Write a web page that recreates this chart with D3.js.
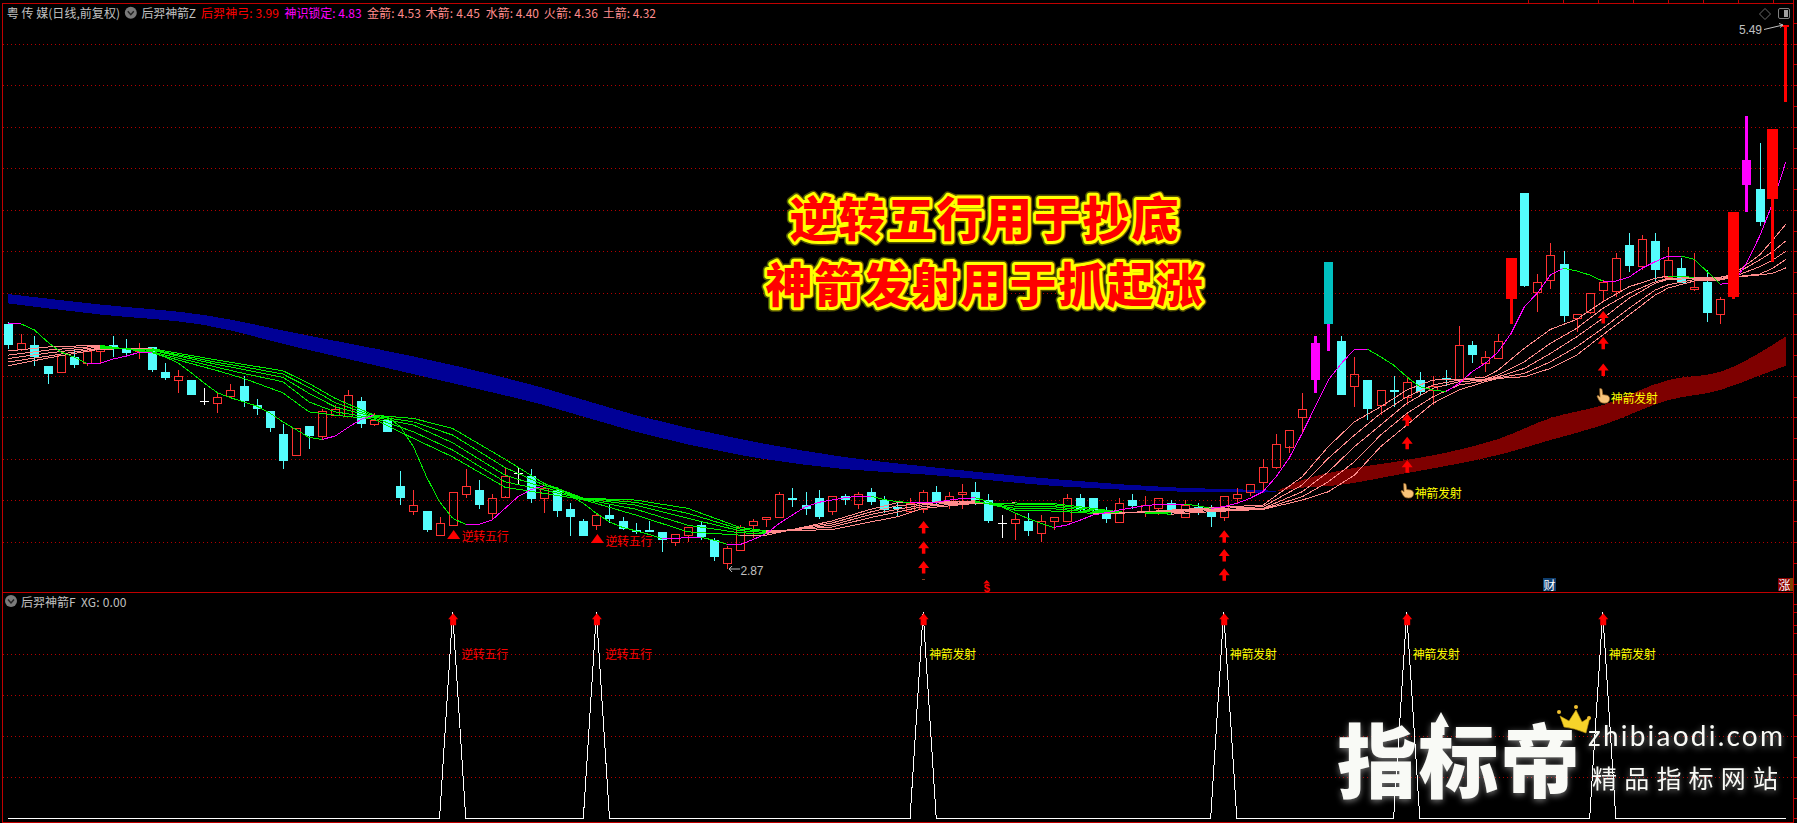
<!DOCTYPE html>
<html><head><meta charset="utf-8">
<script src="https://cdn.jsdelivr.net/npm/d3@7/dist/d3.min.js"></script>
<style>html,body{margin:0;padding:0;background:#000;overflow:hidden}svg{display:block}
text{font-family:"Liberation Sans","Noto Sans CJK SC",sans-serif}</style></head><body>
<svg id="c" width="1797" height="823"></svg>
<script>
// ---------- data ----------
const opens=[4.05,3.93,3.95,3.85,3.82,3.89,3.86,3.92,3.95,3.93,3.92,3.94,3.82,3.78,3.78,3.68,3.67,3.70,3.75,3.66,3.63,3.52,3.42,3.56,3.51,3.61,3.61,3.68,3.57,3.59,3.27,3.15,3.15,3.03,3.08,3.23,3.25,3.14,3.22,3.33,3.32,3.21,3.25,3.16,3.10,3.08,3.13,3.10,3.06,3.06,3.05,3.00,3.03,3.08,3.01,2.90,2.96,3.08,3.11,3.12,3.21,3.18,3.21,3.15,3.22,3.18,3.24,3.20,3.17,3.15,3.16,3.24,3.18,3.23,3.24,3.20,3.09,3.09,3.10,3.04,3.10,3.10,3.21,3.21,3.14,3.10,3.20,3.15,3.16,3.19,3.12,3.17,3.15,3.12,3.21,3.24,3.29,3.36,3.46,3.60,3.78,4.35,3.97,3.75,3.78,3.66,3.73,3.70,3.78,3.73,3.79,3.78,3.95,3.86,3.89,4.17,4.68,4.20,4.26,4.34,4.08,4.11,4.21,4.21,4.43,4.33,4.45,4.28,4.32,4.22,4.25,4.10,4.18,4.72,4.70,4.65,5.49];
const highs=[4.06,4.00,3.99,3.85,3.90,3.93,3.94,3.94,3.99,3.98,3.96,3.94,3.86,3.83,3.78,3.74,3.72,3.76,3.80,3.69,3.63,3.57,3.55,3.56,3.64,3.66,3.73,3.70,3.62,3.60,3.34,3.25,3.15,3.12,3.24,3.35,3.30,3.23,3.36,3.36,3.35,3.26,3.25,3.19,3.11,3.14,3.18,3.12,3.09,3.10,3.05,3.04,3.07,3.10,3.02,2.98,3.08,3.11,3.12,3.24,3.26,3.24,3.25,3.22,3.23,3.24,3.26,3.22,3.19,3.21,3.25,3.27,3.24,3.28,3.29,3.23,3.13,3.14,3.14,3.13,3.12,3.23,3.23,3.21,3.17,3.21,3.23,3.22,3.21,3.20,3.20,3.19,3.18,3.22,3.26,3.28,3.40,3.52,3.54,3.72,3.99,4.35,3.99,3.89,3.78,3.73,3.80,3.79,3.82,3.80,3.83,4.04,3.97,3.92,4.00,4.37,4.68,4.29,4.44,4.40,4.10,4.20,4.26,4.39,4.49,4.48,4.49,4.42,4.37,4.39,4.31,4.18,4.59,5.05,4.92,4.99,5.49];
const lows=[3.93,3.92,3.85,3.76,3.82,3.84,3.85,3.86,3.89,3.90,3.88,3.82,3.78,3.72,3.71,3.66,3.62,3.70,3.65,3.61,3.53,3.35,3.42,3.45,3.49,3.61,3.61,3.55,3.56,3.53,3.18,3.13,3.05,3.03,3.08,3.21,3.16,3.11,3.21,3.28,3.19,3.14,3.12,3.03,3.03,3.06,3.09,3.06,3.04,3.05,2.95,2.98,3.00,3.01,2.91,2.87,2.96,3.02,3.07,3.12,3.17,3.13,3.11,3.13,3.18,3.16,3.18,3.14,3.12,3.14,3.14,3.18,3.16,3.16,3.18,3.09,3.02,3.01,3.03,3.00,3.06,3.10,3.15,3.14,3.09,3.10,3.16,3.12,3.13,3.13,3.12,3.13,3.07,3.10,3.19,3.22,3.25,3.35,3.43,3.53,3.72,3.92,3.71,3.65,3.59,3.61,3.65,3.66,3.71,3.66,3.75,3.78,3.86,3.82,3.89,4.05,4.23,4.11,4.22,4.06,4.01,4.10,4.16,4.18,4.30,4.31,4.25,4.28,4.25,4.21,4.06,4.05,4.17,4.59,4.52,4.35,5.12];
const closes=[3.95,3.96,3.89,3.81,3.90,3.85,3.92,3.94,3.93,3.91,3.93,3.83,3.79,3.80,3.71,3.68,3.70,3.73,3.68,3.64,3.55,3.39,3.55,3.51,3.63,3.64,3.71,3.57,3.59,3.53,3.21,3.18,3.06,3.09,3.24,3.27,3.18,3.21,3.32,3.33,3.21,3.26,3.15,3.12,3.03,3.13,3.11,3.06,3.05,3.05,3.01,3.04,3.07,3.02,2.93,2.97,3.07,3.10,3.12,3.23,3.20,3.16,3.12,3.22,3.20,3.23,3.19,3.15,3.16,3.19,3.24,3.19,3.22,3.24,3.20,3.10,3.09,3.11,3.05,3.10,3.12,3.21,3.15,3.15,3.11,3.19,3.17,3.18,3.21,3.14,3.18,3.16,3.12,3.22,3.23,3.28,3.36,3.47,3.54,3.64,3.96,4.05,3.71,3.81,3.64,3.73,3.72,3.77,3.72,3.75,3.78,3.95,3.90,3.89,3.97,4.37,4.23,4.25,4.38,4.09,4.10,4.20,4.25,4.37,4.33,4.46,4.31,4.36,4.25,4.23,4.10,4.17,4.59,4.84,4.54,4.99,5.49];
const sensorLine=[4.050,4.050,4.021,3.964,3.916,3.891,3.860,3.860,3.881,3.895,3.913,3.913,3.891,3.862,3.815,3.765,3.719,3.695,3.675,3.655,3.622,3.579,3.542,3.504,3.494,3.510,3.552,3.591,3.611,3.603,3.555,3.459,3.314,3.194,3.114,3.085,3.085,3.105,3.162,3.218,3.253,3.271,3.261,3.226,3.186,3.138,3.097,3.070,3.054,3.037,3.017,3.017,3.022,3.022,3.009,2.988,2.988,3.012,3.041,3.090,3.130,3.170,3.191,3.202,3.213,3.221,3.221,3.205,3.194,3.191,3.191,3.191,3.202,3.210,3.213,3.194,3.170,3.141,3.114,3.090,3.070,3.082,3.105,3.130,3.141,3.154,3.165,3.175,3.181,3.181,3.183,3.175,3.162,3.170,3.186,3.210,3.242,3.314,3.403,3.523,3.651,3.780,3.860,3.928,3.928,3.892,3.852,3.796,3.748,3.732,3.724,3.764,3.820,3.860,3.916,4.006,4.133,4.199,4.286,4.318,4.306,4.286,4.257,4.257,4.275,4.318,4.350,4.377,4.377,4.361,4.302,4.242,4.246,4.343,4.472,4.631,4.829];
const fanIdx=[0,3,7,11,16,18,21,23,25,28,31,34,38,41,44,48,52,56,58,63,66,68,70,74,77,80,83,85,89,92,96,99,101,103,105,107,109,111,113,114,116,118,120,122,124,126,127,129,131,132,134,135,136];
const goldArrow=[3.920,3.939,3.948,3.911,3.825,3.788,3.719,3.627,3.611,3.591,3.499,3.410,3.264,3.234,3.204,3.130,3.049,3.033,3.033,3.101,3.158,3.189,3.191,3.198,3.154,3.149,3.138,3.138,3.154,3.165,3.178,3.314,3.459,3.579,3.651,3.732,3.780,3.783,3.794,3.828,3.933,4.024,4.072,4.157,4.229,4.270,4.281,4.275,4.275,4.290,4.382,4.454,4.53];
const woodArrow=[3.900,3.924,3.944,3.916,3.841,3.812,3.772,3.675,3.627,3.597,3.531,3.443,3.290,3.250,3.207,3.158,3.081,3.044,3.041,3.091,3.145,3.174,3.186,3.196,3.162,3.160,3.143,3.141,3.151,3.160,3.170,3.274,3.403,3.515,3.619,3.699,3.756,3.780,3.785,3.804,3.868,3.957,4.029,4.125,4.198,4.253,4.270,4.273,4.275,4.286,4.358,4.398,4.45];
const waterArrow=[3.884,3.910,3.939,3.923,3.855,3.831,3.793,3.716,3.651,3.602,3.563,3.478,3.322,3.263,3.209,3.178,3.114,3.054,3.046,3.081,3.133,3.157,3.179,3.192,3.173,3.170,3.149,3.143,3.146,3.156,3.162,3.242,3.338,3.459,3.563,3.668,3.740,3.772,3.780,3.796,3.836,3.908,3.988,4.077,4.173,4.246,4.265,4.268,4.270,4.277,4.326,4.358,4.40];
const fireArrow=[3.867,3.895,3.934,3.926,3.865,3.844,3.809,3.745,3.671,3.606,3.579,3.515,3.359,3.274,3.211,3.191,3.138,3.062,3.051,3.072,3.118,3.144,3.171,3.189,3.183,3.179,3.155,3.144,3.141,3.151,3.159,3.218,3.290,3.386,3.515,3.619,3.699,3.756,3.778,3.791,3.812,3.868,3.940,4.029,4.125,4.213,4.239,4.264,4.266,4.277,4.290,4.318,4.36];
const earthArrow=[3.849,3.886,3.929,3.931,3.876,3.855,3.825,3.764,3.692,3.611,3.595,3.547,3.399,3.282,3.211,3.202,3.162,3.070,3.054,3.059,3.097,3.121,3.162,3.186,3.188,3.185,3.162,3.145,3.134,3.146,3.157,3.202,3.242,3.322,3.459,3.563,3.668,3.732,3.772,3.788,3.796,3.836,3.900,3.997,4.093,4.189,4.223,4.257,4.262,4.275,4.286,4.294,4.32];
const blueIdx=[0,7,15,22,34,41,48,56,64,70,81,90,96,97];
const blueUpper=[4.194,4.144,4.093,4.006,3.852,3.741,3.611,3.496,3.409,3.365,3.298,3.260,3.250,3.243];
const blueLower=[4.149,4.096,4.045,3.939,3.765,3.659,3.531,3.419,3.351,3.326,3.266,3.242,3.238,3.243];
const redIdx=[97,99,101,107,110,114,118,122,127,131,134,136];
const redUpper=[3.243,3.298,3.332,3.395,3.430,3.496,3.597,3.659,3.780,3.820,3.911,3.99];
const redLower=[3.243,3.262,3.269,3.332,3.366,3.419,3.491,3.563,3.683,3.732,3.802,3.849];
const gridPrices=[5.4,5.2,5.0,4.8,4.6,4.4,4.2,4.0,3.8,3.6,3.4,3.2,3.0];
const gridSignal=[0.2,0.4,0.6,0.8];
const reversalIdx=[34,45];
const launchIdx=[70,93,107,122];
const launchArrows=[[3.101,3.004,2.908],[3.057,2.966,2.874],[3.619,3.507,3.394],[4.112,3.988,3.860]];
const handIdx=[107,122];
const handPrices=[3.284,3.741];
const magentaBars=[100,133];
const tealBars=[101];
const wideRedBars=[115,132,135];
const limitBars=[136];
const reversalLabel="逆转五行", launchLabel="神箭发射";
const legendNames=["后羿神弓","神识锁定","金箭","木箭","水箭","火箭","土箭"];
const legendValues=[3.99,4.83,4.53,4.45,4.40,4.36,4.32];
const titleLines=["逆转五行用于抄底","神箭发射用于抓起涨"];

// ---------- scales ----------
const svg=d3.select("#c");
const COL={red:"#ff3232",cyan:"#54fcfc",pink:"#ff8c8c",green:"#00f000",mag:"#ff00ff",grid:"#b40000",frame:"#c00000",grey:"#c0c0c0"};
const x=d3.scaleLinear().domain([0,136]).range([8.3,1785.7]);
const y=d3.scaleLinear().domain([5.49,2.87]).range([25,569]);
const yS=d3.scaleLinear().domain([0,1]).range([818.3,612.3]);
const snap=v=>Math.round(v)+0.5;
const CJK='"Noto Sans CJK SC","Liberation Sans",sans-serif';

// ---------- grid & frame ----------
const gridG=svg.append("g").attr("shape-rendering","crispEdges");
gridG.selectAll("line.a").data(gridPrices).join("line").attr("x1",3).attr("x2",1793)
  .attr("y1",d=>snap(y(d))).attr("y2",d=>snap(y(d))).attr("stroke",COL.grid).attr("stroke-dasharray","1 3");
gridG.selectAll("line.b").data(gridSignal,d=>"s"+d).join("line").attr("x1",3).attr("x2",1793)
  .attr("y1",d=>snap(yS(d))).attr("y2",d=>snap(yS(d))).attr("stroke",COL.grid).attr("stroke-dasharray","1 3");
const frame=svg.append("g").attr("shape-rendering","crispEdges").attr("stroke",COL.frame).attr("stroke-width",1);
[[2.5,2.5,2.5,823],[1793.5,0,1793.5,823],[2,3.5,1794,3.5],[2,592.5,1794,592.5],[2,822.5,1794,822.5]].forEach(l=>
  frame.append("line").attr("x1",l[0]).attr("y1",l[1]).attr("x2",l[2]).attr("y2",l[3]));
frame.selectAll("line.tk").data(d3.range(5.5,2.55,-0.1)).join("line").attr("class","tk")
  .attr("x1",1794).attr("x2",1797).attr("y1",d=>snap(y(d))).attr("y2",d=>snap(y(d)));
frame.selectAll("line.tks").data(d3.range(0,1.01,0.1)).join("line").attr("class","tks")
  .attr("x1",1794).attr("x2",1797).attr("y1",d=>snap(yS(d))).attr("y2",d=>snap(yS(d)));
frame.selectAll("line.tkt").data(d3.range(1528.5,1793,35)).join("line").attr("class","tkt")
  .attr("x1",d=>d).attr("x2",d=>d).attr("y1",0).attr("y2",3);

// ---------- ribbons ----------
const band=(idx,up,lo,color)=>{
  const a=d3.area().x(d=>x(idx[d])).y0(d=>y(lo[d])).y1(d=>y(up[d])).curve(d3.curveMonotoneX);
  svg.append("path").attr("d",a(d3.range(idx.length))).attr("fill",color).attr("shape-rendering","crispEdges");
};
band(blueIdx,blueUpper,blueLower,"#000096");
band(redIdx,redUpper,redLower,"#7e0000");

// ---------- ordinary candles ----------
const special=new Set([...magentaBars,...tealBars,...wideRedBars,...limitBars]);
const cG=svg.append("g").attr("shape-rendering","crispEdges");
opens.forEach((o,i)=>{
  if(special.has(i))return;
  const c=closes[i],cx=snap(x(i)),up=c>o,doji=c===o;
  const col=doji?"#ffffff":up?COL.red:COL.cyan;
  const t=y(Math.max(o,c)),b=y(Math.min(o,c));
  if(up){
    cG.append("line").attr("x1",cx).attr("x2",cx).attr("y1",y(highs[i])).attr("y2",t).attr("stroke",col);
    cG.append("line").attr("x1",cx).attr("x2",cx).attr("y1",b).attr("y2",y(lows[i])).attr("stroke",col);
    cG.append("rect").attr("x",cx-4).attr("width",8).attr("y",snap(t)).attr("height",Math.max(1,Math.round(b-t)))
      .attr("fill","none").attr("stroke",col);
  }else{
    cG.append("line").attr("x1",cx).attr("x2",cx).attr("y1",y(highs[i])).attr("y2",y(lows[i])).attr("stroke",col);
    if(doji) cG.append("line").attr("x1",cx-4.5).attr("x2",cx+4.5).attr("y1",snap(t)).attr("y2",snap(t)).attr("stroke",col);
    else cG.append("rect").attr("x",cx-4.5).attr("width",9).attr("y",Math.round(t)).attr("height",Math.max(2,Math.round(b-t))).attr("fill",col);
  }
});

// ---------- lines, green when falling ----------
const segs=(idx,vals,rise,fall)=>{
  const g=svg.append("g").attr("shape-rendering","crispEdges").attr("fill","none");
  for(let k=0;k<idx.length-1;k++){
    g.append("line").attr("x1",x(idx[k])).attr("y1",y(vals[k])).attr("x2",x(idx[k+1])).attr("y2",y(vals[k+1]))
     .attr("stroke",vals[k+1]>=vals[k]?rise:fall);
  }
};
[earthArrow,fireArrow,waterArrow,woodArrow,goldArrow].forEach(v=>segs(fanIdx,v,COL.pink,COL.green));
segs(d3.range(sensorLine.length),sensorLine,COL.mag,COL.green);

// ---------- highlighted sticks, on top of the lines ----------
const sG=svg.append("g").attr("shape-rendering","crispEdges");
const stick=(i,w,lw,bodyCol,wickCol)=>{
  const cx=x(i),t=y(Math.max(opens[i],closes[i])),b=y(Math.min(opens[i],closes[i]));
  sG.append("rect").attr("x",cx-lw/2).attr("width",lw).attr("y",y(highs[i])).attr("height",y(lows[i])-y(highs[i])).attr("fill",wickCol);
  sG.append("rect").attr("x",cx-w/2).attr("width",w).attr("y",t).attr("height",Math.max(2,b-t)).attr("fill",bodyCol);
};
magentaBars.forEach(i=>stick(i,9,3,COL.mag,COL.mag));
tealBars.forEach(i=>stick(i,9,3,"#00c0c0",COL.mag));
wideRedBars.forEach(i=>stick(i,11,3,"#ff0000","#ff0000"));
limitBars.forEach(i=>stick(i,7,3,"#ff0000","#ff0000"));

// ---------- markers ----------
const arrowPath=(cx,t,w,stem,head,h)=>`M${cx},${t}L${cx+w/2},${t+head}L${cx+stem/2},${t+head}L${cx+stem/2},${t+h}L${cx-stem/2},${t+h}L${cx-stem/2},${t+head}L${cx-w/2},${t+head}Z`;
launchArrows.forEach((arr,k)=>arr.forEach(p=>svg.append("path").attr("d",arrowPath(x(launchIdx[k])+0.5,y(p),11,3.5,7,12.5)).attr("fill","#ff0000")));

const labelTxt=(t,xx,yy,col)=>svg.append("text").text(t).attr("x",xx).attr("y",yy).attr("fill",col)
   .attr("font-size",12).attr("dominant-baseline","central").style("font-family",CJK).attr("textLength",47).attr("lengthAdjust","spacing");
reversalIdx.forEach(i=>{
  const cx=x(i)+1,t=y(lows[i])+4.5;
  svg.append("path").attr("d",`M${cx},${t}L${cx+6.5},${t+9}L${cx-6.5},${t+9}Z`).attr("fill","#ff0000");
  labelTxt(reversalLabel,cx+8,t+6,"#ff0000");
});
const hand=(cx,top)=>{
  const g=svg.append("g").attr("transform",`translate(${cx-6},${top})`);
  g.append("path").attr("d","M3,0.5 C4.5,0 5.5,1 5.5,2.5 L6,6.5 L10,7 C12,7.5 13,9 12.8,11 C12.5,13.5 11,15 8,15 C5,15 3,14 2,11.5 L0.5,8.5 C0.2,7.5 1.4,7 2.4,8 L3.3,9 Z")
   .attr("fill","#f8c47a").attr("stroke","#a06a28").attr("stroke-width",0.7);
};
handIdx.forEach((i,k)=>{
  hand(x(i),y(handPrices[k]));
  labelTxt(launchLabel,x(i)+8,y(handPrices[k])+9.5,"#ffff00");
});

// extreme labels
const ext=svg.append("g").attr("fill",COL.grey).attr("font-size",12);
ext.append("text").text(d3.format(".2f")(d3.min(lows))).attr("x",740.5).attr("y",y(d3.min(lows))+1.5)
  .attr("dominant-baseline","central").attr("textLength",23);
ext.append("path").attr("d",`M${x(55)+2},${y(2.87)}L${x(55)+13},${y(2.87)}M${x(55)+2},${y(2.87)}l3,-3M${x(55)+2},${y(2.87)}l3,3`).attr("stroke",COL.grey).attr("fill","none");
ext.append("text").text(d3.format(".2f")(d3.max(highs))).attr("x",1739).attr("y",y(5.49)+4.5)
  .attr("dominant-baseline","central").attr("textLength",23);
ext.append("path").attr("d",`M1764,29.5L1783,25M1783,25l-4,-1.5M1783,25l-3,2.5`).attr("stroke",COL.grey).attr("fill","none");
// top right icons
svg.append("path").attr("d","M1765,8.5L1770.5,14L1765,19.5L1759.5,14Z").attr("fill","none").attr("stroke","#6a6a6a");
svg.append("rect").attr("x",1778.5).attr("y",8.5).attr("width",11).attr("height",10).attr("rx",1.5).attr("fill","none").attr("stroke","#808080");
svg.append("rect").attr("x",1784).attr("y",10).attr("width",4).attr("height",7).attr("fill","#a0a0a0");
// small bottom tags
svg.append("path").attr("d","M986.7,580L990,583.5L983.4,583.5Z").attr("fill","#ff0000");
svg.append("text").text("$").attr("x",986.7).attr("y",588).attr("text-anchor","middle").attr("dominant-baseline","central")
  .attr("fill","#ff0000").attr("font-size",11).attr("font-weight","bold");
svg.append("rect").attr("x",922).attr("y",579).attr("width",3).attr("height",1).attr("fill","#804020");
const tag=(t,xx,w,bg)=>{svg.append("rect").attr("x",xx).attr("y",578).attr("width",w).attr("height",13).attr("fill",bg);
 svg.append("text").text(t).attr("x",xx+6.5).attr("y",584.5).attr("text-anchor","middle").attr("dominant-baseline","central")
 .attr("fill","#fff").attr("font-size",12).style("font-family",CJK);};
tag("财",1543,13,"#0f3e6e");
tag("涨",1778,12,"#8b0000");
svg.append("rect").attr("x",1790).attr("y",578).attr("width",3).attr("height",13).attr("fill","#804000");

// ---------- legend ----------
const hdr=(t,xx,xe,yy,col)=>svg.append("text").text(t).attr("x",xx).attr("y",yy).attr("fill",col).attr("font-size",12)
  .attr("dominant-baseline","central").style("font-family",CJK).attr("textLength",xe-xx).attr("lengthAdjust","spacing");
hdr("粤 传 媒(日线,前复权)",6.7,120,12.7,COL.grey);
const chev=(cx,cy)=>{svg.append("circle").attr("cx",cx).attr("cy",cy).attr("r",6).attr("fill","#7a7a7a");
 svg.append("path").attr("d",`M${cx-3},${cy-1.5}L${cx},${cy+2}L${cx+3},${cy-1.5}`).attr("fill","none").attr("stroke","#222").attr("stroke-width",1.4);};
chev(130.8,12.7);
hdr("后羿神箭Z",141.5,196,12.7,COL.grey);
const legendX=[[201,279],[284.4,361.6],[367,421],[425.4,480],[485.7,539],[543.8,598],[602.7,656]];
const legendCol=["#ff0000","#ff00ff",COL.pink,COL.pink,COL.pink,COL.pink,COL.pink];
legendNames.forEach((n,k)=>hdr(n+": "+legendValues[k].toFixed(2),legendX[k][0],legendX[k][1],12.7,legendCol[k]));

// ---------- title ----------
const tY=[215.7,281];
titleLines.forEach((t,k)=>{
  const mk=()=>svg.append("text").text(t).attr("x",985).attr("y",tY[k]).attr("text-anchor","middle").attr("dominant-baseline","central")
    .attr("font-size",47).attr("font-weight",900).style("font-family",CJK).attr("letter-spacing",1.8).attr("stroke-linejoin","round");
  mk().attr("fill","none").attr("stroke","#8a8a00").attr("stroke-width",9).attr("opacity",0.6);
  mk().attr("fill","#ff0000").attr("stroke","#ffff00").attr("stroke-width",6).style("paint-order","stroke");
});

// ---------- lower panel ----------
const signalIdx=launchIdx.concat(reversalIdx).sort((a,b)=>a-b);
const xg=opens.map((_,i)=>signalIdx.includes(i)?1:0);
svg.append("path").attr("d",d3.line().x((d,i)=>x(i)).y(d=>yS(d))(xg)).attr("fill","none").attr("stroke","#fff").attr("shape-rendering","crispEdges");
signalIdx.forEach(i=>{
  svg.append("path").attr("d",arrowPath(x(i)+0.5,yS(1)+1,10,6,6,12)).attr("fill","#ff0000");
  const rev=reversalIdx.includes(i);
  labelTxt(rev?reversalLabel:launchLabel,x(i)+(rev?8.5:6),yS(0.8),rev?"#ff0000":"#ffff00");
});
chev(11,601);
hdr("后羿神箭F",21,75.5,601,COL.grey);
hdr("XG: "+xg[136].toFixed(2),81,126.5,601,COL.grey);

// ---------- watermark ----------
const defs=svg.append("defs");
defs.append("filter").attr("id","glow").attr("x","-10%").attr("y","-10%").attr("width","120%").attr("height","120%")
  .append("feDropShadow").attr("dx",0).attr("dy",2).attr("stdDeviation",3).attr("flood-color","#ffffff").attr("flood-opacity",0.45);
const wm=svg.append("g").attr("filter","url(#glow)").attr("fill","#f9faf6");
wm.append("text").text("指标帝").attr("x",1337).attr("y",756).attr("dominant-baseline","central").attr("font-size",80)
  .attr("font-weight",900).style("font-family",CJK).attr("textLength",243).attr("lengthAdjust","spacing");
wm.append("path").attr("d","M1441,712L1449,727L1444.5,727L1444.5,735L1437.5,735L1437.5,727L1433,727Z");
wm.append("text").text("zhibiaodi.com").attr("x",1588).attr("y",746).attr("font-size",28).style("font-family","Lato").attr("textLength",195).attr("lengthAdjust","spacing");
wm.append("text").text("精品指标网站").attr("x",1592).attr("y",777).attr("dominant-baseline","central").attr("font-size",25).style("font-family",CJK).attr("textLength",186).attr("lengthAdjust","spacing");
const crown=svg.append("g");
crown.append("path").attr("d","M1564,727L1560,716L1569,721L1576,710L1582,722L1590,717L1586,733Q1574,728 1564,727Z").attr("fill","#f6d32a").attr("stroke","#c9a010").attr("stroke-width",0.6);
[[1559,712],[1576,707],[1589,718]].forEach(p=>crown.append("circle").attr("cx",p[0]).attr("cy",p[1]).attr("r",2).attr("fill","#f0c030"));
</script></body></html>
